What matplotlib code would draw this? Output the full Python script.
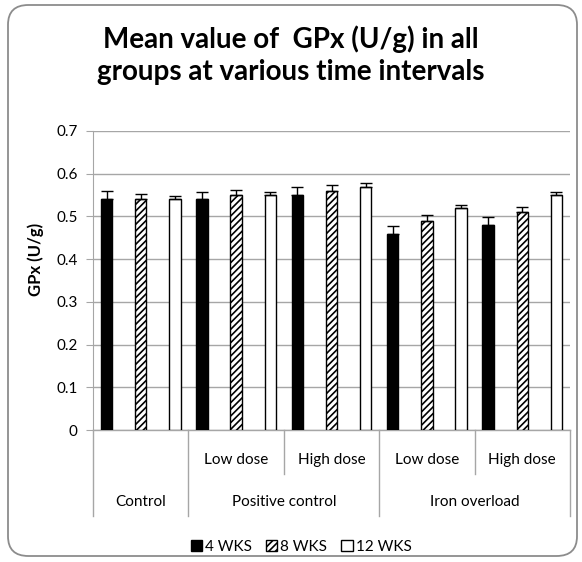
import matplotlib
matplotlib.use("Agg")
import matplotlib.pyplot as plt
import matplotlib.transforms as mtransforms
from matplotlib.patches import FancyBboxPatch, Patch
import numpy as np

plt.rcParams['font.family'] = ['Lato', 'DejaVu Sans']
plt.rcParams['hatch.linewidth'] = 1.2

# ---- data ----
subgroups = ["", "Low dose", "High dose", "Low dose", "High dose"]
groups = ["Control", "Positive control", "Iron overload"]
group_spans = [(0, 0), (1, 2), (3, 4)]
series_names = ["4 WKS", "8 WKS", "12 WKS"]
wk4 = [0.54, 0.54, 0.55, 0.46, 0.48]
wk8 = [0.54, 0.55, 0.56, 0.49, 0.51]
wk12 = [0.54, 0.55, 0.57, 0.52, 0.55]
err4 = [0.019, 0.018, 0.020, 0.018, 0.018]
err8 = [0.013, 0.012, 0.013, 0.013, 0.013]
err12 = [0.008, 0.008, 0.009, 0.007, 0.008]
yticks = [0, 0.1, 0.2, 0.3, 0.4, 0.5, 0.6, 0.7]
title = "Mean value of  GPx (U/g) in all\ngroups at various time intervals"
ylabel = "GPx (U/g)"

W, H = 582, 562
fig = plt.figure(figsize=(W / 100, H / 100), dpi=100)

# rounded outer frame
frame = FancyBboxPatch((8 / W, 6 / H), (577 - 8) / W, (557 - 6) / H,
                       boxstyle="round,pad=0,rounding_size=0.035",
                       transform=fig.transFigure, facecolor="white",
                       edgecolor="#8c8c8c", linewidth=1.3, zorder=-10)
fig.patches.append(frame)

left, right, top, bottom = 93, 570, 131, 430
ax = fig.add_axes([left / W, 1 - bottom / H, (right - left) / W, (bottom - top) / H])
ax.set_facecolor("none")
ax.set_zorder(1)

x = np.arange(len(subgroups))
bw = 0.12
off = 0.358
styles = [dict(color="black", edgecolor="black"),
          dict(color="white", edgecolor="black", hatch="/////"),
          dict(color="white", edgecolor="black")]
for i, (vals, errs) in enumerate(zip([wk4, wk8, wk12], [err4, err8, err12])):
    pos = x + (i - 1) * off
    ax.bar(pos, vals, bw, linewidth=1.0, zorder=3, **styles[i])
    ax.errorbar(pos, vals, yerr=[np.zeros(len(errs)), errs], fmt="none",
                ecolor="black", elinewidth=1.0, capsize=4, capthick=1.0, zorder=4)

ax.set_xlim(-0.5, len(subgroups) - 0.5)
ax.set_ylim(0, 0.7)
ax.set_yticks(yticks)
ax.set_yticklabels(["0" if v == 0 else f"{v:.1f}" for v in yticks])
ax.yaxis.grid(True, color="#a6a6a6", linewidth=1.0, zorder=0)
ax.set_axisbelow(True)
for s in ["top", "right", "bottom"]:
    ax.spines[s].set_visible(False)
ax.spines["left"].set_color("#a6a6a6")
ax.tick_params(axis="y", length=5, color="#a6a6a6", labelsize=11, pad=6)
ax.set_xticks([])
ax.axhline(0, color="#a6a6a6", linewidth=1.0, zorder=2, clip_on=False)

# y label (placed as in the reference, slightly above the axis centre)
fig.text(36 / W, 1 - 259 / H, ylabel, rotation=90, ha="center", va="center",
         fontsize=12, fontweight="bold")

# multi-level category axis
trans = mtransforms.blended_transform_factory(ax.transData, ax.transAxes)
short_y = -(474 - bottom) / (bottom - top)
long_y = -(516 - bottom) / (bottom - top)
sub_y = -(460 - bottom) / (bottom - top)
grp_y = -(502 - bottom) / (bottom - top)
bounds = [s[0] - 0.5 for s in group_spans] + [group_spans[-1][1] + 0.5]
for b in np.arange(-0.5, len(subgroups), 1.0):
    yend = long_y if b in bounds else short_y
    ax.plot([b, b], [0, yend], transform=trans, color="#a6a6a6",
            linewidth=1.0, clip_on=False)
for xi, lab in zip(x, subgroups):
    ax.text(xi, sub_y, lab, transform=trans, ha="center", va="center", fontsize=11)
for (a, b), lab in zip(group_spans, groups):
    ax.text((a + b) / 2, grp_y, lab, transform=trans, ha="center", va="center", fontsize=11)

# title
fig.text(0.5, 1 - 55 / H, title, ha="center", va="center", fontsize=20,
         fontweight="bold", linespacing=1.3)

# legend
handles = [Patch(facecolor="black", edgecolor="black"),
           Patch(facecolor="white", edgecolor="black", hatch="/////"),
           Patch(facecolor="white", edgecolor="black")]
fig.legend(handles, series_names, loc="center", bbox_to_anchor=(301 / W, 1 - 547 / H),
           ncol=3, frameon=False, fontsize=11, handlelength=0.75, handleheight=0.75,
           handletextpad=0.2, columnspacing=0.9)

fig.savefig("out.png", dpi=100)
